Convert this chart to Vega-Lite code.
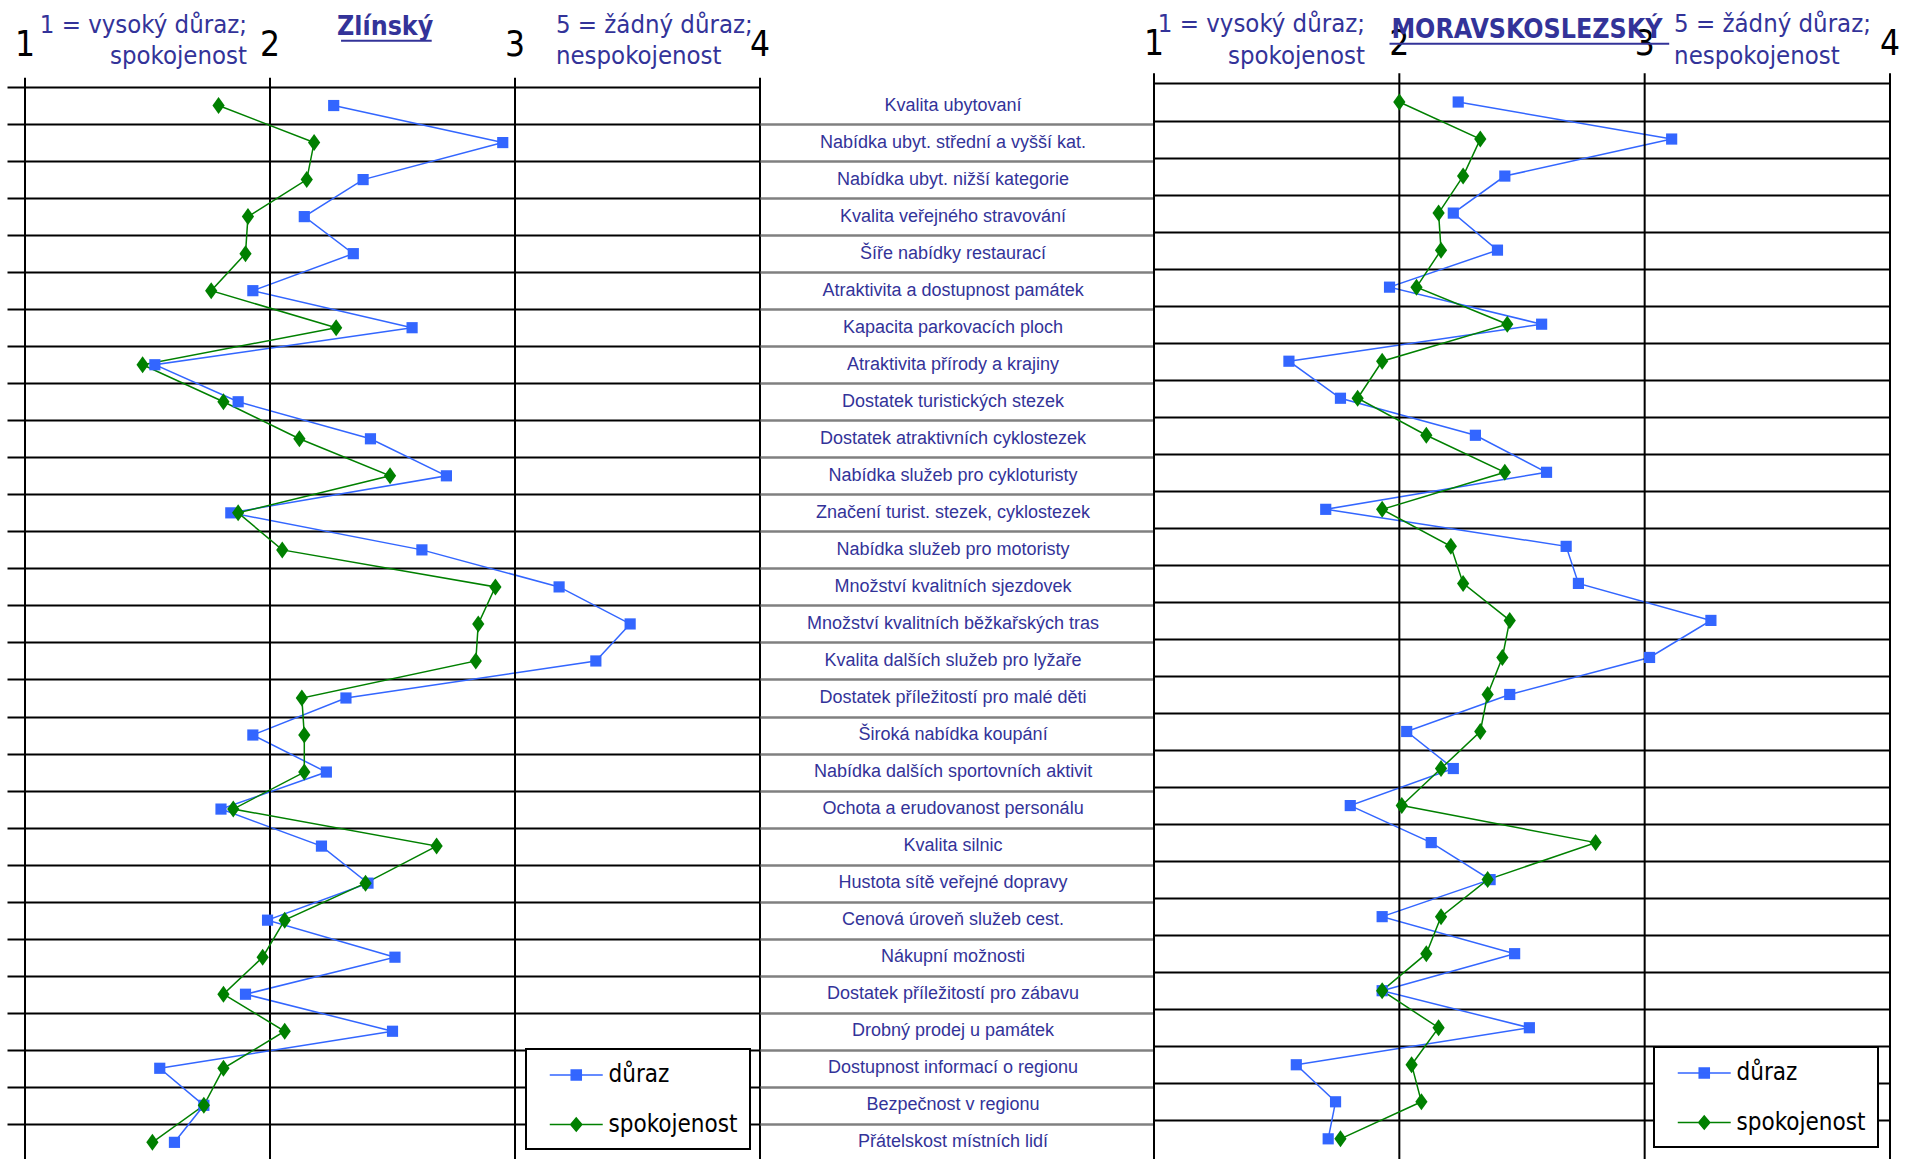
{
  "$schema": "https://vega.github.io/schema/vega-lite/v6.json",
  "padding": {"left": 6, "top": 0, "right": 0, "bottom": 0},
  "spacing": 0,
  "bounds": "flush",
  "config": {
    "view": {"stroke": null},
    "font": "Liberation Sans",
    "axis": {"domain": false, "labels": false, "ticks": false, "grid": false, "minExtent": 0, "maxExtent": 0}
  },
  "resolve": {
    "scale": {"color": "independent", "stroke": "independent", "shape": "independent"},
    "legend": {"color": "independent", "stroke": "independent", "shape": "independent"}
  },
  "datasets": {
    "grid": [{"v": 1}, {"v": 2}, {"v": 3}, {"v": 4}],
    "cats": [
      {"i": 1, "c": "Kvalita ubytovaní"},
      {"i": 2, "c": "Nabídka ubyt. střední a vyšší kat."},
      {"i": 3, "c": "Nabídka ubyt. nižší kategorie"},
      {"i": 4, "c": "Kvalita veřejného stravování"},
      {"i": 5, "c": "Šíře nabídky restaurací"},
      {"i": 6, "c": "Atraktivita a dostupnost památek"},
      {"i": 7, "c": "Kapacita parkovacích ploch"},
      {"i": 8, "c": "Atraktivita přírody a krajiny"},
      {"i": 9, "c": "Dostatek turistických stezek"},
      {"i": 10, "c": "Dostatek atraktivních cyklostezek"},
      {"i": 11, "c": "Nabídka služeb pro cykloturisty"},
      {"i": 12, "c": "Značení turist. stezek, cyklostezek"},
      {"i": 13, "c": "Nabídka služeb pro motoristy"},
      {"i": 14, "c": "Množství kvalitních sjezdovek"},
      {"i": 15, "c": "Množství kvalitních běžkařských tras"},
      {"i": 16, "c": "Kvalita dalších služeb pro lyžaře"},
      {"i": 17, "c": "Dostatek příležitostí pro malé děti"},
      {"i": 18, "c": "Široká nabídka koupání"},
      {"i": 19, "c": "Nabídka dalších sportovních aktivit"},
      {"i": 20, "c": "Ochota a erudovanost personálu"},
      {"i": 21, "c": "Kvalita silnic"},
      {"i": 22, "c": "Hustota sítě veřejné dopravy"},
      {"i": 23, "c": "Cenová úroveň služeb cest."},
      {"i": 24, "c": "Nákupní možnosti"},
      {"i": 25, "c": "Dostatek příležitostí pro zábavu"},
      {"i": 26, "c": "Drobný prodej u památek"},
      {"i": 27, "c": "Dostupnost informací o regionu"},
      {"i": 28, "c": "Bezpečnost v regionu"},
      {"i": 29, "c": "Přátelskost místních lidí"}
    ],
    "zlin": [
      {"i": 1, "s": "důraz", "v": 2.26}, {"i": 1, "s": "spokojenost", "v": 1.79},
      {"i": 2, "s": "důraz", "v": 2.95}, {"i": 2, "s": "spokojenost", "v": 2.18},
      {"i": 3, "s": "důraz", "v": 2.38}, {"i": 3, "s": "spokojenost", "v": 2.15},
      {"i": 4, "s": "důraz", "v": 2.14}, {"i": 4, "s": "spokojenost", "v": 1.91},
      {"i": 5, "s": "důraz", "v": 2.34}, {"i": 5, "s": "spokojenost", "v": 1.90},
      {"i": 6, "s": "důraz", "v": 1.93}, {"i": 6, "s": "spokojenost", "v": 1.76},
      {"i": 7, "s": "důraz", "v": 2.58}, {"i": 7, "s": "spokojenost", "v": 2.27},
      {"i": 8, "s": "důraz", "v": 1.53}, {"i": 8, "s": "spokojenost", "v": 1.48},
      {"i": 9, "s": "důraz", "v": 1.87}, {"i": 9, "s": "spokojenost", "v": 1.81},
      {"i": 10, "s": "důraz", "v": 2.41}, {"i": 10, "s": "spokojenost", "v": 2.12},
      {"i": 11, "s": "důraz", "v": 2.72}, {"i": 11, "s": "spokojenost", "v": 2.49},
      {"i": 12, "s": "důraz", "v": 1.84}, {"i": 12, "s": "spokojenost", "v": 1.87},
      {"i": 13, "s": "důraz", "v": 2.62}, {"i": 13, "s": "spokojenost", "v": 2.05},
      {"i": 14, "s": "důraz", "v": 3.18}, {"i": 14, "s": "spokojenost", "v": 2.92},
      {"i": 15, "s": "důraz", "v": 3.47}, {"i": 15, "s": "spokojenost", "v": 2.85},
      {"i": 16, "s": "důraz", "v": 3.33}, {"i": 16, "s": "spokojenost", "v": 2.84},
      {"i": 17, "s": "důraz", "v": 2.31}, {"i": 17, "s": "spokojenost", "v": 2.13},
      {"i": 18, "s": "důraz", "v": 1.93}, {"i": 18, "s": "spokojenost", "v": 2.14},
      {"i": 19, "s": "důraz", "v": 2.23}, {"i": 19, "s": "spokojenost", "v": 2.14},
      {"i": 20, "s": "důraz", "v": 1.80}, {"i": 20, "s": "spokojenost", "v": 1.85},
      {"i": 21, "s": "důraz", "v": 2.21}, {"i": 21, "s": "spokojenost", "v": 2.68},
      {"i": 22, "s": "důraz", "v": 2.40}, {"i": 22, "s": "spokojenost", "v": 2.39},
      {"i": 23, "s": "důraz", "v": 1.99}, {"i": 23, "s": "spokojenost", "v": 2.06},
      {"i": 24, "s": "důraz", "v": 2.51}, {"i": 24, "s": "spokojenost", "v": 1.97},
      {"i": 25, "s": "důraz", "v": 1.90}, {"i": 25, "s": "spokojenost", "v": 1.81},
      {"i": 26, "s": "důraz", "v": 2.50}, {"i": 26, "s": "spokojenost", "v": 2.06},
      {"i": 27, "s": "důraz", "v": 1.55}, {"i": 27, "s": "spokojenost", "v": 1.81},
      {"i": 28, "s": "důraz", "v": 1.73}, {"i": 28, "s": "spokojenost", "v": 1.73},
      {"i": 29, "s": "důraz", "v": 1.61}, {"i": 29, "s": "spokojenost", "v": 1.52}
    ],
    "msk": [
      {"i": 1, "s": "důraz", "v": 2.24}, {"i": 1, "s": "spokojenost", "v": 2.00},
      {"i": 2, "s": "důraz", "v": 3.11}, {"i": 2, "s": "spokojenost", "v": 2.33},
      {"i": 3, "s": "důraz", "v": 2.43}, {"i": 3, "s": "spokojenost", "v": 2.26},
      {"i": 4, "s": "důraz", "v": 2.22}, {"i": 4, "s": "spokojenost", "v": 2.16},
      {"i": 5, "s": "důraz", "v": 2.40}, {"i": 5, "s": "spokojenost", "v": 2.17},
      {"i": 6, "s": "důraz", "v": 1.96}, {"i": 6, "s": "spokojenost", "v": 2.07},
      {"i": 7, "s": "důraz", "v": 2.58}, {"i": 7, "s": "spokojenost", "v": 2.44},
      {"i": 8, "s": "důraz", "v": 1.55}, {"i": 8, "s": "spokojenost", "v": 1.93},
      {"i": 9, "s": "důraz", "v": 1.76}, {"i": 9, "s": "spokojenost", "v": 1.83},
      {"i": 10, "s": "důraz", "v": 2.31}, {"i": 10, "s": "spokojenost", "v": 2.11},
      {"i": 11, "s": "důraz", "v": 2.60}, {"i": 11, "s": "spokojenost", "v": 2.43},
      {"i": 12, "s": "důraz", "v": 1.70}, {"i": 12, "s": "spokojenost", "v": 1.93},
      {"i": 13, "s": "důraz", "v": 2.68}, {"i": 13, "s": "spokojenost", "v": 2.21},
      {"i": 14, "s": "důraz", "v": 2.73}, {"i": 14, "s": "spokojenost", "v": 2.26},
      {"i": 15, "s": "důraz", "v": 3.27}, {"i": 15, "s": "spokojenost", "v": 2.45},
      {"i": 16, "s": "důraz", "v": 3.02}, {"i": 16, "s": "spokojenost", "v": 2.42},
      {"i": 17, "s": "důraz", "v": 2.45}, {"i": 17, "s": "spokojenost", "v": 2.36},
      {"i": 18, "s": "důraz", "v": 2.03}, {"i": 18, "s": "spokojenost", "v": 2.33},
      {"i": 19, "s": "důraz", "v": 2.22}, {"i": 19, "s": "spokojenost", "v": 2.17},
      {"i": 20, "s": "důraz", "v": 1.80}, {"i": 20, "s": "spokojenost", "v": 2.01},
      {"i": 21, "s": "důraz", "v": 2.13}, {"i": 21, "s": "spokojenost", "v": 2.80},
      {"i": 22, "s": "důraz", "v": 2.37}, {"i": 22, "s": "spokojenost", "v": 2.36},
      {"i": 23, "s": "důraz", "v": 1.93}, {"i": 23, "s": "spokojenost", "v": 2.17},
      {"i": 24, "s": "důraz", "v": 2.47}, {"i": 24, "s": "spokojenost", "v": 2.11},
      {"i": 25, "s": "důraz", "v": 1.93}, {"i": 25, "s": "spokojenost", "v": 1.93},
      {"i": 26, "s": "důraz", "v": 2.53}, {"i": 26, "s": "spokojenost", "v": 2.16},
      {"i": 27, "s": "důraz", "v": 1.58}, {"i": 27, "s": "spokojenost", "v": 2.05},
      {"i": 28, "s": "důraz", "v": 1.74}, {"i": 28, "s": "spokojenost", "v": 2.09},
      {"i": 29, "s": "důraz", "v": 1.71}, {"i": 29, "s": "spokojenost", "v": 1.76}
    ]
  },
  "hconcat": [
    {
      "width": 735,
      "height": 1159,
      "data": {"name": "zlin"},
      "layer": [
        {
          "transform": [{"filter": {"field": "s", "equal": "důraz"}}],
          "mark": {"type": "line", "color": "#3366FF", "strokeWidth": 1.5},
          "encoding": {
            "x": {"field": "v", "type": "quantitative", "scale": {"domain": [1, 4], "nice": false, "zero": false}, "axis": null},
            "y": {"field": "i", "type": "quantitative", "scale": {"domain": [-1.85, 29.45], "reverse": true, "nice": false, "zero": false},
              "axis": {"values": [0.5, 1.5, 2.5, 3.5, 4.5, 5.5, 6.5, 7.5, 8.5, 9.5, 10.5, 11.5, 12.5, 13.5, 14.5, 15.5, 16.5, 17.5, 18.5, 19.5, 20.5, 21.5, 22.5, 23.5, 24.5, 25.5, 26.5, 27.5, 28.5],
                "grid": true, "gridColor": "#000000", "gridWidth": 2, "gridOpacity": 1,
                "ticks": true, "tickSize": 18, "tickColor": "#000000", "tickWidth": 2, "tickOpacity": 1,
                "labels": false, "domain": false, "title": null, "minExtent": 18, "maxExtent": 18}},
            "order": {"field": "i", "type": "quantitative"}
          }
        },
        {
          "data": {"name": "grid"},
          "mark": {"type": "rule", "color": "#000000", "strokeWidth": 2},
          "encoding": {
            "x": {"field": "v", "type": "quantitative", "axis": null},
            "y": {"datum": 0.25},
            "y2": {"datum": 29.45}
          }
        },
        {
          "data": {"name": "grid"},
          "mark": {"type": "text", "font": "DejaVu Sans Condensed", "fontSize": 35, "color": "#000000", "align": "center", "baseline": "alphabetic"},
          "encoding": {
            "x": {"field": "v", "type": "quantitative", "axis": null},
            "y": {"datum": -0.338},
            "text": {"field": "v", "type": "quantitative"}
          }
        },
        {
          "transform": [{"filter": {"field": "s", "equal": "spokojenost"}}],
          "mark": {"type": "line", "color": "#008000", "strokeWidth": 1.5},
          "encoding": {
            "x": {"field": "v", "type": "quantitative", "axis": null},
            "y": {"field": "i", "type": "quantitative"},
            "order": {"field": "i", "type": "quantitative"}
          }
        },
        {
          "transform": [{"filter": {"field": "s", "equal": "důraz"}}],
          "mark": {"type": "point", "shape": "square", "filled": true, "size": 125, "color": "#3366FF", "opacity": 1},
          "encoding": {
            "x": {"field": "v", "type": "quantitative", "axis": null},
            "y": {"field": "i", "type": "quantitative"}
          }
        },
        {
          "transform": [{"filter": {"field": "s", "equal": "spokojenost"}}],
          "mark": {"type": "point", "shape": "M0,-1L0.72,0L0,1L-0.72,0Z", "filled": true, "size": 289, "color": "#008000", "opacity": 1},
          "encoding": {
            "x": {"field": "v", "type": "quantitative", "axis": null},
            "y": {"field": "i", "type": "quantitative"}
          }
        },
        {
          "mark": {"type": "point", "filled": true, "opacity": 0},
          "encoding": {
            "x": {"field": "v", "type": "quantitative", "axis": null},
            "y": {"field": "i", "type": "quantitative"},
            "color": {"field": "s", "type": "nominal", "scale": {"domain": ["důraz", "spokojenost"], "range": ["#3366FF", "#008000"]},
              "legend": {"title": null, "orient": "bottom-right", "offset": 10, "padding": 12, "rowPadding": 23.5, "symbolSize": 702, "symbolOffset": 24.25, "labelOffset": 18.25, "symbolOpacity": 1, "symbolStrokeWidth": 1.5, "labelFont": "DejaVu Sans Condensed", "labelFontSize": 24, "labelColor": "#000000", "labelLimit": 0, "fillColor": "#FFFFFF", "strokeColor": "#000000", "encode": {"legend": {"update": {"strokeWidth": {"value": 2}}}}}},
            "stroke": {"field": "s", "type": "nominal", "scale": {"domain": ["důraz", "spokojenost"], "range": ["#3366FF", "#008000"]},
              "legend": {"title": null, "orient": "bottom-right", "offset": 10, "padding": 12, "rowPadding": 23.5, "symbolSize": 702, "symbolOffset": 24.25, "labelOffset": 18.25, "symbolOpacity": 1, "symbolStrokeWidth": 1.5, "labelFont": "DejaVu Sans Condensed", "labelFontSize": 24, "labelColor": "#000000", "labelLimit": 0, "fillColor": "#FFFFFF", "strokeColor": "#000000", "encode": {"legend": {"update": {"strokeWidth": {"value": 2}}}}}},
            "shape": {"field": "s", "type": "nominal", "scale": {"domain": ["důraz", "spokojenost"], "range": ["M-2,0H2M-0.38,-0.38H0.38V0.38H-0.38Z", "M-2,0H2M0,-0.5L0.42,0L0,0.5L-0.42,0Z"]},
              "legend": {"title": null, "orient": "bottom-right", "offset": 10, "padding": 12, "rowPadding": 23.5, "symbolSize": 702, "symbolOffset": 24.25, "labelOffset": 18.25, "symbolOpacity": 1, "symbolStrokeWidth": 1.5, "labelFont": "DejaVu Sans Condensed", "labelFontSize": 24, "labelColor": "#000000", "labelLimit": 0, "fillColor": "#FFFFFF", "strokeColor": "#000000", "encode": {"legend": {"update": {"strokeWidth": {"value": 2}}}}}}
          }
        },
        {
          "data": {"values": [{}]},
          "mark": {"type": "text", "text": "1 = vysoký důraz;", "font": "DejaVu Sans Condensed", "fontSize": 25.5, "color": "#333399", "align": "right", "baseline": "alphabetic"},
          "encoding": {"x": {"datum": 1.906, "axis": null}, "y": {"datum": -0.964}}
        },
        {
          "data": {"values": [{}]},
          "mark": {"type": "text", "text": "spokojenost", "font": "DejaVu Sans Condensed", "fontSize": 25.5, "color": "#333399", "align": "right", "baseline": "alphabetic"},
          "encoding": {"x": {"datum": 1.906, "axis": null}, "y": {"datum": -0.11}}
        },
        {
          "data": {"values": [{}]},
          "mark": {"type": "text", "text": "Zlínský", "font": "DejaVu Sans Condensed", "fontSize": 26.5, "fontWeight": "bold", "color": "#333399", "align": "center", "baseline": "alphabetic"},
          "encoding": {"x": {"datum": 2.47, "axis": null}, "y": {"datum": -0.899}}
        },
        {
          "data": {"values": [{}]},
          "mark": {"type": "rule", "color": "#333399", "strokeWidth": 2},
          "encoding": {"x": {"datum": 2.29, "axis": null}, "x2": {"datum": 2.66}, "y": {"datum": -0.751}}
        },
        {
          "data": {"values": [{}]},
          "mark": {"type": "text", "text": "5 = žádný důraz;", "font": "DejaVu Sans Condensed", "fontSize": 25.5, "color": "#333399", "align": "left", "baseline": "alphabetic"},
          "encoding": {"x": {"datum": 3.167, "axis": null}, "y": {"datum": -0.964}}
        },
        {
          "data": {"values": [{}]},
          "mark": {"type": "text", "text": "nespokojenost", "font": "DejaVu Sans Condensed", "fontSize": 25.5, "color": "#333399", "align": "left", "baseline": "alphabetic"},
          "encoding": {"x": {"datum": 3.167, "axis": null}, "y": {"datum": -0.11}}
        }
      ]
    },
    {
      "width": 394,
      "height": 1159,
      "data": {"name": "cats"},
      "mark": {"type": "text", "font": "Liberation Sans", "fontSize": 18, "color": "#333399", "align": "center", "baseline": "middle"},
      "encoding": {
        "x": {"datum": 0.49, "type": "quantitative", "scale": {"domain": [0, 1], "nice": false, "zero": false}, "axis": null},
        "y": {"field": "i", "type": "quantitative", "scale": {"domain": [-1.85, 29.45], "reverse": true, "nice": false, "zero": false},
          "axis": {"values": [1.5, 2.5, 3.5, 4.5, 5.5, 6.5, 7.5, 8.5, 9.5, 10.5, 11.5, 12.5, 13.5, 14.5, 15.5, 16.5, 17.5, 18.5, 19.5, 20.5, 21.5, 22.5, 23.5, 24.5, 25.5, 26.5, 27.5, 28.5],
            "grid": true, "gridColor": "#808080", "gridWidth": 2.5, "gridOpacity": 1, "ticks": false, "labels": false, "domain": false, "title": null, "minExtent": 0, "maxExtent": 0}},
        "text": {"field": "c", "type": "nominal"}
      }
    },
    {
      "width": 736,
      "height": 1159,
      "data": {"name": "msk"},
      "layer": [
        {
          "transform": [{"filter": {"field": "s", "equal": "důraz"}}],
          "mark": {"type": "line", "color": "#3366FF", "strokeWidth": 1.5},
          "encoding": {
            "x": {"field": "v", "type": "quantitative", "scale": {"domain": [1, 4], "nice": false, "zero": false}, "axis": null},
            "y": {"field": "i", "type": "quantitative", "scale": {"domain": [-1.755, 29.545], "reverse": true, "nice": false, "zero": false},
              "axis": {"values": [0.5, 1.5, 2.5, 3.5, 4.5, 5.5, 6.5, 7.5, 8.5, 9.5, 10.5, 11.5, 12.5, 13.5, 14.5, 15.5, 16.5, 17.5, 18.5, 19.5, 20.5, 21.5, 22.5, 23.5, 24.5, 25.5, 26.5, 27.5, 28.5],
                "grid": true, "gridColor": "#000000", "gridWidth": 2, "gridOpacity": 1,
                "ticks": false, "labels": false, "domain": false, "title": null, "minExtent": 0, "maxExtent": 0}},
            "order": {"field": "i", "type": "quantitative"}
          }
        },
        {
          "data": {"name": "grid"},
          "mark": {"type": "rule", "color": "#000000", "strokeWidth": 2},
          "encoding": {
            "x": {"field": "v", "type": "quantitative", "axis": null},
            "y": {"datum": 0.22},
            "y2": {"datum": 29.545}
          }
        },
        {
          "data": {"name": "grid"},
          "mark": {"type": "text", "font": "DejaVu Sans Condensed", "fontSize": 35, "color": "#000000", "align": "center", "baseline": "alphabetic"},
          "encoding": {
            "x": {"field": "v", "type": "quantitative", "axis": null},
            "y": {"datum": -0.28},
            "text": {"field": "v", "type": "quantitative"}
          }
        },
        {
          "transform": [{"filter": {"field": "s", "equal": "spokojenost"}}],
          "mark": {"type": "line", "color": "#008000", "strokeWidth": 1.5},
          "encoding": {
            "x": {"field": "v", "type": "quantitative", "axis": null},
            "y": {"field": "i", "type": "quantitative"},
            "order": {"field": "i", "type": "quantitative"}
          }
        },
        {
          "transform": [{"filter": {"field": "s", "equal": "důraz"}}],
          "mark": {"type": "point", "shape": "square", "filled": true, "size": 125, "color": "#3366FF", "opacity": 1},
          "encoding": {
            "x": {"field": "v", "type": "quantitative", "axis": null},
            "y": {"field": "i", "type": "quantitative"}
          }
        },
        {
          "transform": [{"filter": {"field": "s", "equal": "spokojenost"}}],
          "mark": {"type": "point", "shape": "M0,-1L0.72,0L0,1L-0.72,0Z", "filled": true, "size": 289, "color": "#008000", "opacity": 1},
          "encoding": {
            "x": {"field": "v", "type": "quantitative", "axis": null},
            "y": {"field": "i", "type": "quantitative"}
          }
        },
        {
          "mark": {"type": "point", "filled": true, "opacity": 0},
          "encoding": {
            "x": {"field": "v", "type": "quantitative", "axis": null},
            "y": {"field": "i", "type": "quantitative"},
            "color": {"field": "s", "type": "nominal", "scale": {"domain": ["důraz", "spokojenost"], "range": ["#3366FF", "#008000"]},
              "legend": {"title": null, "orient": "bottom-right", "offset": 12, "padding": 12, "rowPadding": 23.5, "symbolSize": 702, "symbolOffset": 24.25, "labelOffset": 18.25, "symbolOpacity": 1, "symbolStrokeWidth": 1.5, "labelFont": "DejaVu Sans Condensed", "labelFontSize": 24, "labelColor": "#000000", "labelLimit": 0, "fillColor": "#FFFFFF", "strokeColor": "#000000", "encode": {"legend": {"update": {"strokeWidth": {"value": 2}}}}}},
            "stroke": {"field": "s", "type": "nominal", "scale": {"domain": ["důraz", "spokojenost"], "range": ["#3366FF", "#008000"]},
              "legend": {"title": null, "orient": "bottom-right", "offset": 12, "padding": 12, "rowPadding": 23.5, "symbolSize": 702, "symbolOffset": 24.25, "labelOffset": 18.25, "symbolOpacity": 1, "symbolStrokeWidth": 1.5, "labelFont": "DejaVu Sans Condensed", "labelFontSize": 24, "labelColor": "#000000", "labelLimit": 0, "fillColor": "#FFFFFF", "strokeColor": "#000000", "encode": {"legend": {"update": {"strokeWidth": {"value": 2}}}}}},
            "shape": {"field": "s", "type": "nominal", "scale": {"domain": ["důraz", "spokojenost"], "range": ["M-2,0H2M-0.38,-0.38H0.38V0.38H-0.38Z", "M-2,0H2M0,-0.5L0.42,0L0,0.5L-0.42,0Z"]},
              "legend": {"title": null, "orient": "bottom-right", "offset": 12, "padding": 12, "rowPadding": 23.5, "symbolSize": 702, "symbolOffset": 24.25, "labelOffset": 18.25, "symbolOpacity": 1, "symbolStrokeWidth": 1.5, "labelFont": "DejaVu Sans Condensed", "labelFontSize": 24, "labelColor": "#000000", "labelLimit": 0, "fillColor": "#FFFFFF", "strokeColor": "#000000", "encode": {"legend": {"update": {"strokeWidth": {"value": 2}}}}}}
          }
        },
        {
          "data": {"values": [{}]},
          "mark": {"type": "text", "text": "1 = vysoký důraz;", "font": "DejaVu Sans Condensed", "fontSize": 25.5, "color": "#333399", "align": "right", "baseline": "alphabetic"},
          "encoding": {"x": {"datum": 1.86, "axis": null}, "y": {"datum": -0.902}}
        },
        {
          "data": {"values": [{}]},
          "mark": {"type": "text", "text": "spokojenost", "font": "DejaVu Sans Condensed", "fontSize": 25.5, "color": "#333399", "align": "right", "baseline": "alphabetic"},
          "encoding": {"x": {"datum": 1.86, "axis": null}, "y": {"datum": -0.016}}
        },
        {
          "data": {"values": [{}]},
          "mark": {"type": "text", "text": "MORAVSKOSLEZSKÝ", "font": "DejaVu Sans Condensed", "fontSize": 26.5, "fontWeight": "bold", "color": "#333399", "align": "center", "baseline": "alphabetic"},
          "encoding": {"x": {"datum": 2.52, "axis": null}, "y": {"datum": -0.737}}
        },
        {
          "data": {"values": [{}]},
          "mark": {"type": "rule", "color": "#333399", "strokeWidth": 2},
          "encoding": {"x": {"datum": 1.96, "axis": null}, "x2": {"datum": 3.1}, "y": {"datum": -0.575}}
        },
        {
          "data": {"values": [{}]},
          "mark": {"type": "text", "text": "5 = žádný důraz;", "font": "DejaVu Sans Condensed", "fontSize": 25.5, "color": "#333399", "align": "left", "baseline": "alphabetic"},
          "encoding": {"x": {"datum": 3.12, "axis": null}, "y": {"datum": -0.902}}
        },
        {
          "data": {"values": [{}]},
          "mark": {"type": "text", "text": "nespokojenost", "font": "DejaVu Sans Condensed", "fontSize": 25.5, "color": "#333399", "align": "left", "baseline": "alphabetic"},
          "encoding": {"x": {"datum": 3.12, "axis": null}, "y": {"datum": -0.016}}
        }
      ]
    }
  ]
}
